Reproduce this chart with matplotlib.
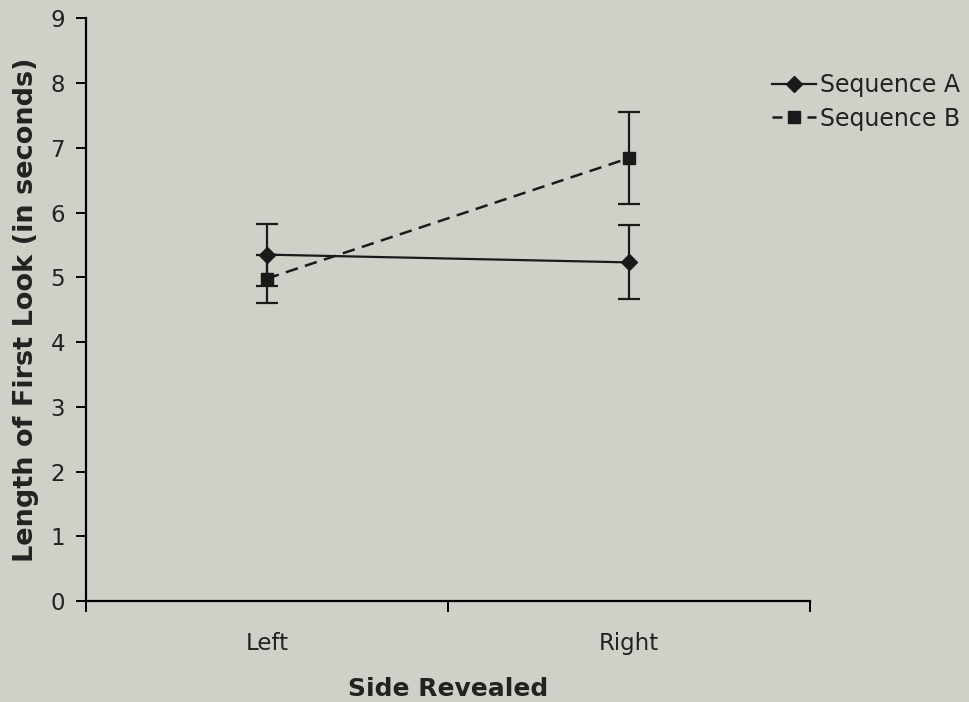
import numpy as np
from matplotlib import pyplot as plt
from matplotlib.lines import Line2D

# looking-time means and error bars per side
sides = ['Left', 'Right']
seq_a = [5.35, 5.23]
seq_a_err = [0.48, 0.57]
seq_b = [4.98, 6.84]
seq_b_err = [0.37, 0.71]

bg = '#cfd0c8'
ink = '#1a1a1a'
txt = '#222222'
plt.rcParams['font.family'] = 'DejaVu Sans'

fig = plt.figure(figsize=(9.7, 7.02), dpi=100, facecolor=bg)
ax = fig.add_axes([0.0887, 0.1439, 0.746, 0.830], facecolor=bg)

x = np.arange(len(sides)) + 0.5
ax.errorbar(x, seq_a, yerr=seq_a_err, color=ink, lw=1.6, marker='D',
            ms=8, capsize=8, capthick=1.6, elinewidth=1.6)
ax.errorbar(x, seq_b, yerr=seq_b_err, color=ink, lw=1.8, ls=(0, (5, 3)),
            marker='s', ms=9, capsize=8, capthick=1.6, elinewidth=1.6)

ax.set_xlim(0, 2)
ax.set_ylim(0, 9)
ax.set_yticks(range(10))
ax.set_xticks([0, 1, 2])
ax.set_xticklabels([])
ax.set_xticks(x, minor=True)
ax.set_xticklabels(sides, minor=True)
ax.tick_params(axis='x', which='minor', length=0, pad=22, labelsize=16.5,
               labelcolor=txt)
ax.tick_params(axis='x', which='major', length=8, width=1.4, direction='out')
ax.tick_params(axis='y', length=7, width=1.4, direction='out', labelsize=16.5,
               pad=8, labelcolor=txt)

for side in ['top', 'right']:
    ax.spines[side].set_visible(False)
for side in ['left', 'bottom']:
    ax.spines[side].set_linewidth(1.6)

ax.set_xlabel('Side Revealed', fontsize=18, fontweight='bold', labelpad=16,
              color=txt)
ax.set_ylabel('Length of First Look (in seconds)', fontsize=19.5,
              fontweight='bold', labelpad=8, color=txt)

handles = [
    Line2D([], [], color=ink, lw=1.6, marker='D', ms=8),
    Line2D([], [], color=ink, lw=1.8, ls=(0, (4, 3)), marker='s', ms=8),
]
fig.legend(handles, ['Sequence A', 'Sequence B'], loc='upper left',
           bbox_to_anchor=(0.774, 0.926), frameon=False, fontsize=17,
           handlelength=1.85, handletextpad=0.2, labelspacing=0.4,
           labelcolor=txt)

fig.savefig('out.png', dpi=100, facecolor=bg)
